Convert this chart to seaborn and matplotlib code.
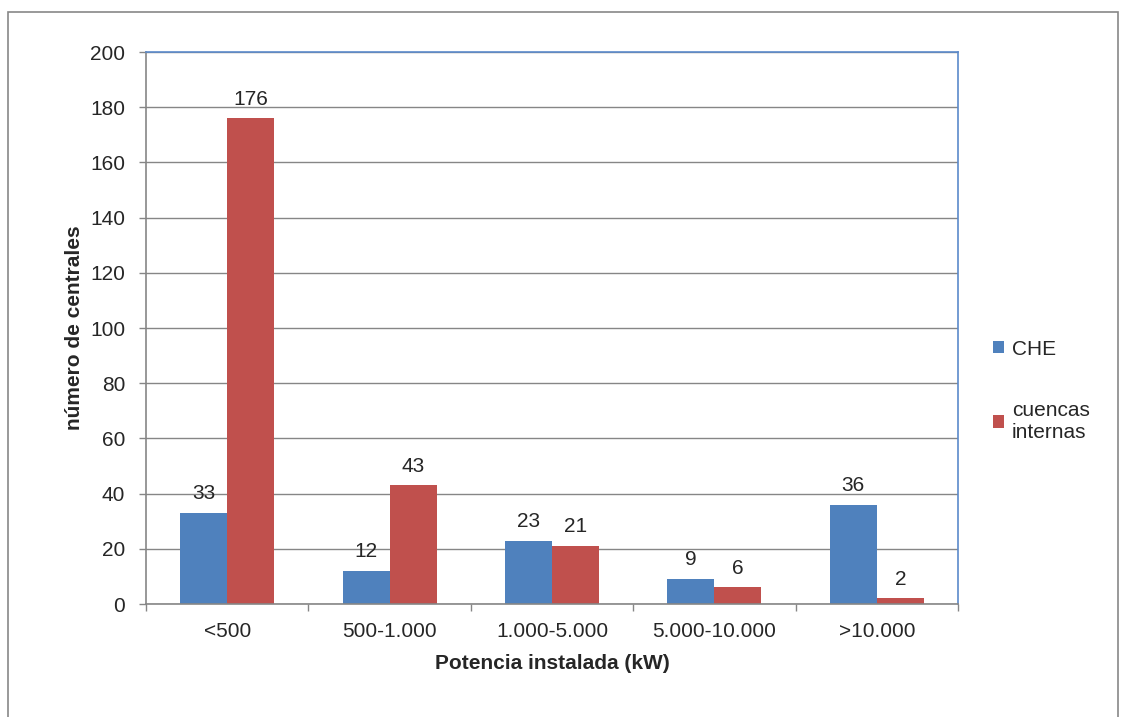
import pandas as pd
import matplotlib.pyplot as plt
import seaborn as sns
from matplotlib.patches import Rectangle
from matplotlib.ticker import FixedLocator

sns.set_theme(style="white")
plt.rcParams['font.family'] = ['Liberation Sans', 'DejaVu Sans']

# Datos
categorias = ['<500', '500-1.000', '1.000-5.000', '5.000-10.000', '>10.000']
che = [33, 12, 23, 9, 36]
cuencas = [176, 43, 21, 6, 2]
series = ['CHE', 'cuencas\ninternas']

df = pd.DataFrame({
    'categoria': categorias * 2,
    'valor': che + cuencas,
    'serie': [series[0]] * len(categorias) + [series[1]] * len(categorias),
})

fig = plt.figure(figsize=(11.21, 7.17), dpi=100)
ax = fig.add_axes([146 / 1121, 1 - 604 / 717, 812 / 1121, 552 / 717])

# Marco exterior
fig.patches.append(Rectangle((8 / 1121, -0.01), 1110 / 1121, 1 - 12 / 717 + 0.01,
                             transform=fig.transFigure, fill=False,
                             edgecolor='#878787', linewidth=1.2))

sns.barplot(data=df, x='categoria', y='valor', hue='serie', ax=ax,
            palette=['#4F81BD', '#C0504D'], width=0.58, gap=0,
            saturation=1, edgecolor='none')

for cont in ax.containers:
    ax.bar_label(cont, padding=7, fontsize=15)

ax.set_ylim(0, 200)
ax.set_xlim(-0.5, len(categorias) - 0.5)
ax.set_yticks(range(0, 201, 20))
ax.yaxis.grid(True, color='#868686', linewidth=1)
ax.set_axisbelow(True)

ax.xaxis.set_minor_locator(FixedLocator([i - 0.5 for i in range(len(categorias) + 1)]))
ax.tick_params(axis='x', which='major', length=0, labelsize=15, pad=13)
ax.tick_params(axis='x', which='minor', length=5, width=1, color='#868686', direction='out', bottom=True)
ax.tick_params(axis='y', length=5, width=1, color='#868686', direction='out', left=True, labelsize=15, pad=10)

for s in ['left', 'bottom']:
    ax.spines[s].set_color('#868686')
    ax.spines[s].set_linewidth(1.2)
for s in ['top', 'right']:
    ax.spines[s].set_color('#5B8ACB')
    ax.spines[s].set_linewidth(1.2)

ax.set_xlabel('Potencia instalada (kW)', fontsize=15, fontweight='bold', labelpad=9)
ax.set_ylabel('número de centrales', fontsize=15, fontweight='bold', labelpad=4)

leg = ax.legend(title=None, frameon=False, fontsize=15, loc='upper left',
                bbox_to_anchor=(1.02, 0.513), handlelength=0.55, handleheight=0.55,
                handletextpad=0.35, labelspacing=2.05)
for t in leg.get_texts():
    t.set_linespacing(1.15)

fig.savefig('out.png', dpi=100)
